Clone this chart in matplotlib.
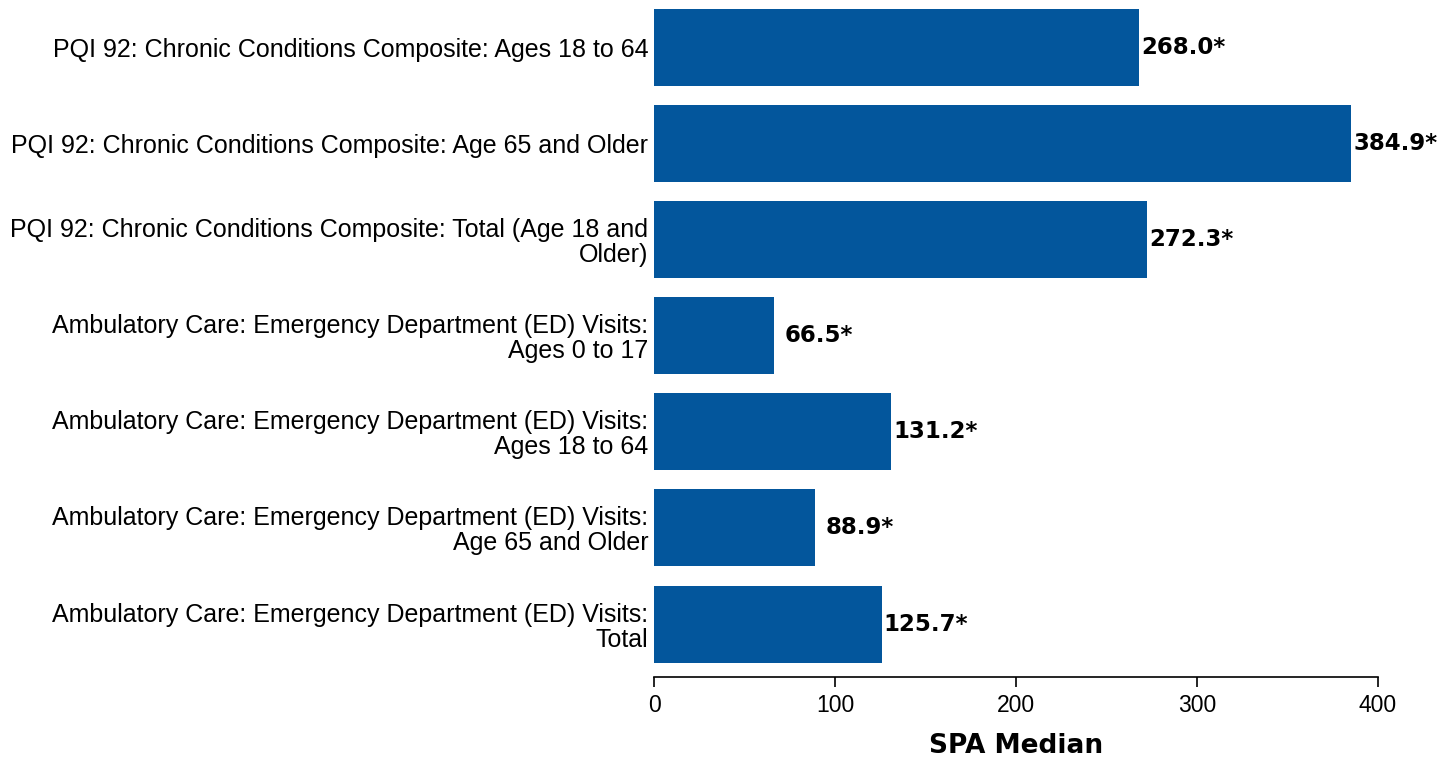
import matplotlib.pyplot as plt

plt.rcParams['font.family'] = ['Liberation Sans', 'DejaVu Sans']

CATEGORIES = [
    "PQI 92: Chronic Conditions Composite: Ages 18 to 64",
    "PQI 92: Chronic Conditions Composite: Age 65 and Older",
    "PQI 92: Chronic Conditions Composite: Total (Age 18 and\nOlder)",
    "Ambulatory Care: Emergency Department (ED) Visits:\nAges 0 to 17",
    "Ambulatory Care: Emergency Department (ED) Visits:\nAges 18 to 64",
    "Ambulatory Care: Emergency Department (ED) Visits:\nAge 65 and Older",
    "Ambulatory Care: Emergency Department (ED) Visits:\nTotal",
]
VALUES = [268.0, 384.9, 272.3, 66.5, 131.2, 88.9, 125.7]
VALUE_LABELS = ["268.0*", "384.9*", "272.3*", "66.5*", "131.2*", "88.9*", "125.7*"]
X_TICKS = [0, 100, 200, 300, 400]

BAR_COLOR = "#03569c"

fig = plt.figure(figsize=(14.39, 7.59), dpi=100)
ax = fig.add_axes([0.4545, 0.108, 0.5031, 0.892])

pos = list(range(len(CATEGORIES)))
ax.barh(pos, VALUES, height=0.8, color=BAR_COLOR)

for y, v, lab in zip(pos, VALUES, VALUE_LABELS):
    ax.annotate(lab, (v, y), xytext=(32, 0), textcoords="offset points",
                ha="center", va="center", fontsize=16.5, fontweight="bold",
                family="DejaVu Sans")

ax.set_xlim(0, 400)
ax.set_ylim(6.55, -0.49)
ax.set_xticks(X_TICKS)
ax.set_yticks(pos)
ax.set_yticklabels(CATEGORIES, fontsize=18, linespacing=1.05)
ax.tick_params(axis="y", length=0, pad=4)
ax.tick_params(axis="x", length=7, width=1.2, labelsize=16.5, pad=5)

for s in ("left", "top", "right"):
    ax.spines[s].set_visible(False)
ax.spines["bottom"].set_linewidth(1.2)

fig.text(ax.get_position().x0 + ax.get_position().width / 2, 0.017, "SPA Median",
         ha="center", va="center", fontsize=19, fontweight="bold",
         family="DejaVu Sans")

fig.savefig("out.png", dpi=100)
